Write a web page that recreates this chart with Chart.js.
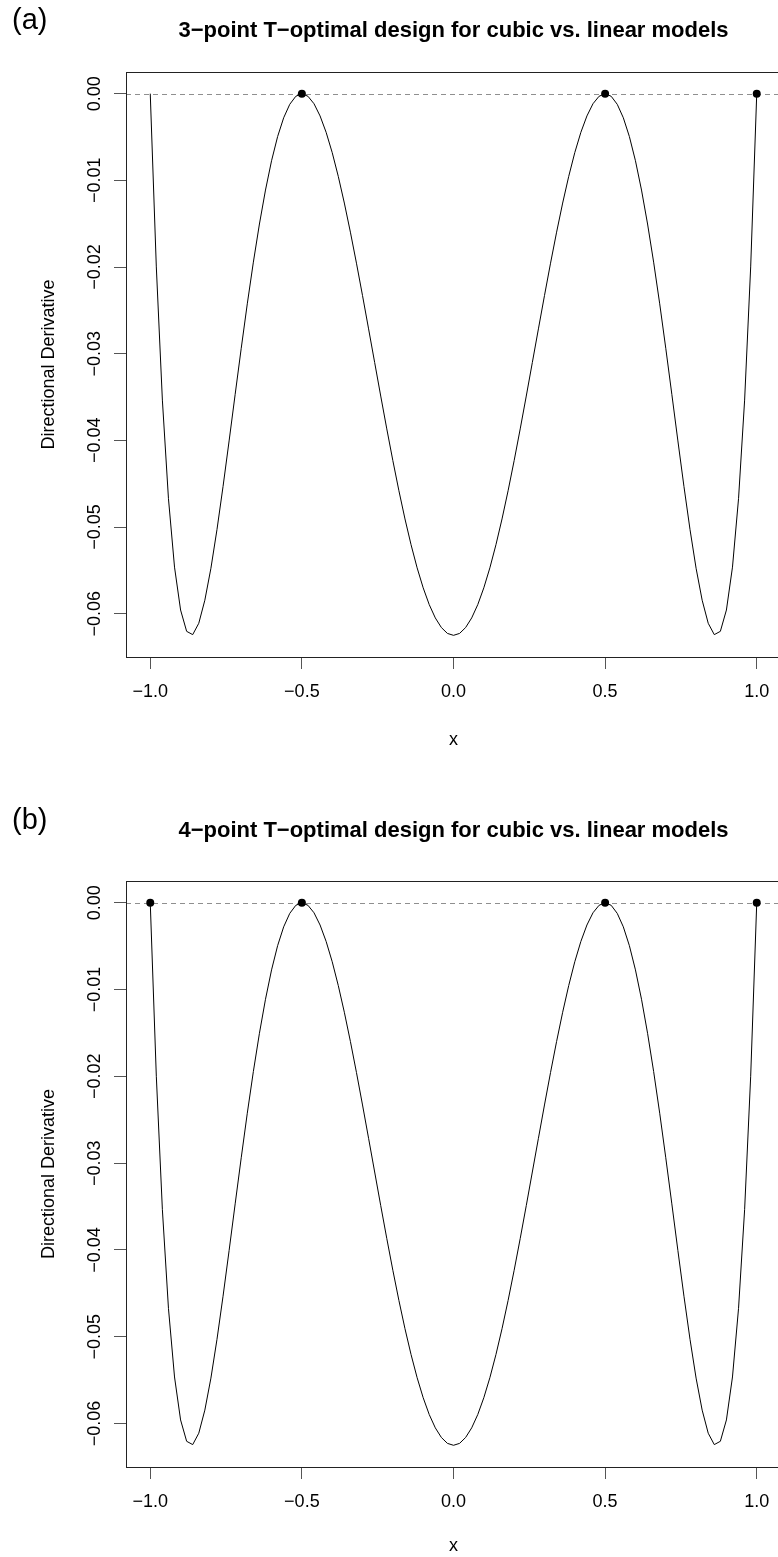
<!DOCTYPE html>
<html>
<head>
<meta charset="utf-8">
<script src="https://cdn.jsdelivr.net/npm/chart.js@4.4.1/dist/chart.umd.min.js"></script>
<style>
  html, body { margin: 0; padding: 0; background: #fff; overflow: hidden; width: 778px; height: 1557px; }
  .panel { position: absolute; left: 0; }
  canvas { display: block; }
</style>
</head>
<body>
<div class="panel" style="top:0"><canvas id="chartA" width="800" height="778"></canvas></div>
<div class="panel" style="top:778px"><canvas id="chartB" width="800" height="779"></canvas></div>
<script>
// grid of x values the derivative was evaluated on
const xGrid = [
  -1.00, -0.98, -0.96, -0.94, -0.92, -0.90, -0.88, -0.86, -0.84, -0.82,
  -0.80, -0.78, -0.76, -0.74, -0.72, -0.70, -0.68, -0.66, -0.64, -0.62,
  -0.60, -0.58, -0.56, -0.54, -0.52, -0.50, -0.48, -0.46, -0.44, -0.42,
  -0.40, -0.38, -0.36, -0.34, -0.32, -0.30, -0.28, -0.26, -0.24, -0.22,
  -0.20, -0.18, -0.16, -0.14, -0.12, -0.10, -0.08, -0.06, -0.04, -0.02,
   0.00,
   0.02,  0.04,  0.06,  0.08,  0.10,  0.12,  0.14,  0.16,  0.18,  0.20,
   0.22,  0.24,  0.26,  0.28,  0.30,  0.32,  0.34,  0.36,  0.38,  0.40,
   0.42,  0.44,  0.46,  0.48,  0.50,  0.52,  0.54,  0.56,  0.58,  0.60,
   0.62,  0.64,  0.66,  0.68,  0.70,  0.72,  0.74,  0.76,  0.78,  0.80,
   0.82,  0.84,  0.86,  0.88,  0.90,  0.92,  0.94,  0.96,  0.98,  1.00
];
const directionalDerivative = [
   0.00000, -0.01999, -0.03536, -0.04673, -0.05463, -0.05958, -0.06204, -0.06242, -0.06111, -0.05845,
  -0.05476, -0.05030, -0.04533, -0.04007, -0.03469, -0.02938, -0.02425, -0.01944, -0.01504, -0.01112,
  -0.00774, -0.00495, -0.00278, -0.00123, -0.00030,  0.00000, -0.00030, -0.00116, -0.00257, -0.00446,
  -0.00680, -0.00954, -0.01262, -0.01598, -0.01956, -0.02330, -0.02714, -0.03102, -0.03489, -0.03868,
  -0.04234, -0.04582, -0.04907, -0.05204, -0.05471, -0.05702, -0.05896, -0.06049, -0.06160, -0.06228,
  -0.06250,
  -0.06228, -0.06160, -0.06049, -0.05896, -0.05702, -0.05471, -0.05204, -0.04907, -0.04582, -0.04234,
  -0.03868, -0.03489, -0.03102, -0.02714, -0.02330, -0.01956, -0.01598, -0.01262, -0.00954, -0.00680,
  -0.00446, -0.00257, -0.00116, -0.00030,  0.00000, -0.00030, -0.00123, -0.00278, -0.00495, -0.00774,
  -0.01112, -0.01504, -0.01944, -0.02425, -0.02938, -0.03469, -0.04007, -0.04533, -0.05030, -0.05476,
  -0.05845, -0.06111, -0.06242, -0.06204, -0.05958, -0.05463, -0.04673, -0.03536, -0.01999,  0.00000
];

// design support points and the derivative value there
const supportA = [-0.5, 0.5, 1.0];
const supportValuesA = [0, 0, 0];
const supportB = [-1.0, -0.5, 0.5, 1.0];
const supportValuesB = [0, 0, 0, 0];

const xTicks = [-1.0, -0.5, 0.0, 0.5, 1.0];
const yTicks = [0.00, -0.01, -0.02, -0.03, -0.04, -0.05, -0.06];
const refLevel = 0;

const FONT = "'Liberation Sans', Arial, Helvetica, sans-serif";
const fmt = (v, d) => v.toFixed(d).replace('-', '\u2212');

// frame, rotated y labels, dashed zero line, panel letter and main title
const decor = {
  id: 'decor',
  beforeDatasetsDraw(chart) {
    const {ctx, chartArea: a, scales: {y}} = chart;
    const yy = Math.round(y.getPixelForValue(refLevel)) + 0.5;
    ctx.save();
    ctx.strokeStyle = '#8f8f8f';
    ctx.lineWidth = 1;
    ctx.setLineDash([5, 4]);
    ctx.beginPath();
    ctx.moveTo(a.left, yy);
    ctx.lineTo(a.right, yy);
    ctx.stroke();
    ctx.restore();
  },
  afterDraw(chart, args, opts) {
    const {ctx, chartArea: a, scales: {y}} = chart;
    ctx.save();
    ctx.strokeStyle = '#222';
    ctx.lineWidth = 1;
    const l = Math.floor(a.left) + 0.5, t = Math.floor(a.top) + 0.5;
    const b = Math.floor(a.bottom) + 0.5, r = Math.floor(a.right) + 0.5;
    ctx.strokeRect(l, t, r - l, b - t);

    ctx.fillStyle = '#000';
    ctx.font = `18px ${FONT}`;
    ctx.textAlign = 'center';
    ctx.textBaseline = 'alphabetic';
    yTicks.forEach(v => {
      ctx.save();
      ctx.translate(99.5, y.getPixelForValue(v));
      ctx.rotate(-Math.PI / 2);
      ctx.fillText(fmt(v, 2), 0, 0);
      ctx.restore();
    });

    ctx.font = `29px ${FONT}`;
    ctx.textAlign = 'left';
    ctx.fillText(opts.letter, 12, opts.letterY);

    ctx.font = `bold 22px ${FONT}`;
    ctx.textAlign = 'center';
    ctx.fillText(opts.title, (a.left + a.right) / 2, opts.titleY);
    ctx.restore();
  }
};

function buildPanel(id, p) {
  const canvas = document.getElementById(id);
  return new Chart(canvas, {
    type: 'line',
    data: {
      datasets: [
        {
          data: p.support.map((v, i) => ({x: v, y: p.supportValues[i]})),
          showLine: false,
          pointRadius: 4,
          pointBackgroundColor: '#000',
          pointBorderWidth: 0,
          order: 0
        },
        {
          data: xGrid.map((v, i) => ({x: v, y: directionalDerivative[i]})),
          borderColor: '#000',
          borderWidth: 1,
          pointRadius: 0,
          tension: 0,
          fill: false,
          order: 1
        }
      ]
    },
    options: {
      responsive: false,
      animation: false,
      devicePixelRatio: 1,
      events: [],
      layout: { padding: { top: p.boxTop, left: 0, right: 19, bottom: 0 } },
      plugins: {
        legend: { display: false },
        tooltip: { enabled: false },
        decor: { letter: p.letter, letterY: p.letterY, title: p.title, titleY: p.titleY }
      },
      scales: {
        x: {
          type: 'linear',
          position: 'bottom',
          min: -1.08,
          max: 1.08,
          afterBuildTicks: s => { s.ticks = xTicks.map(v => ({value: v})); },
          afterFit: s => { s.height = p.height - p.boxBottom; },
          border: { display: false },
          grid: { display: true, drawOnChartArea: false, drawTicks: true, tickLength: 12, color: '#555', lineWidth: 1 },
          ticks: {
            color: '#000',
            font: { family: FONT, size: 18 },
            padding: 12.5,
            maxRotation: 0,
            autoSkip: false,
            callback: v => fmt(v, 1)
          },
          title: {
            display: true,
            text: 'x',
            color: '#000',
            font: { family: FONT, size: 18 },
            padding: { top: 0, bottom: p.xTitlePad }
          }
        },
        y: {
          type: 'linear',
          position: 'left',
          min: -0.065,
          max: 0.0025,
          afterBuildTicks: s => { s.ticks = yTicks.map(v => ({value: v})); },
          afterFit: s => { s.width = 126; },
          border: { display: false },
          grid: { display: true, drawOnChartArea: false, drawTicks: true, tickLength: 12, color: '#555', lineWidth: 1 },
          ticks: { display: false },
          title: {
            display: true,
            text: 'Directional Derivative',
            color: '#000',
            font: { family: FONT, size: 18 },
            padding: { top: 38, bottom: 0 }
          }
        }
      }
    },
    plugins: [decor]
  });
}

buildPanel('chartA', {
  height: 778, boxTop: 72, boxBottom: 657,
  letter: '(a)', letterY: 29,
  title: '3\u2212point T\u2212optimal design for cubic vs. linear models', titleY: 36.5,
  xTitlePad: 27,
  support: supportA, supportValues: supportValuesA
});
buildPanel('chartB', {
  height: 779, boxTop: 103, boxBottom: 689,
  letter: '(b)', letterY: 51,
  title: '4\u2212point T\u2212optimal design for cubic vs. linear models', titleY: 58.5,
  xTitlePad: 0,
  support: supportB, supportValues: supportValuesB
});
</script>
</body>
</html>
